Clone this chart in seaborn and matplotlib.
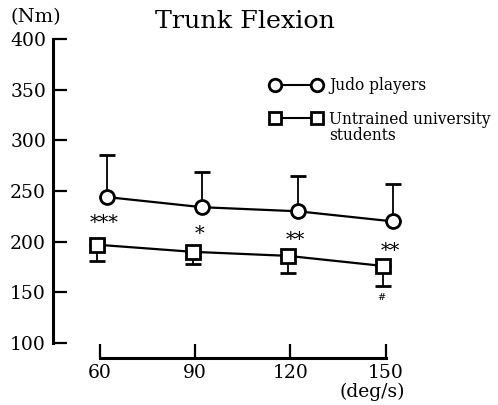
import matplotlib
matplotlib.use("Agg")
import matplotlib.pyplot as plt
import seaborn as sns
import pandas as pd
import numpy as np

# Data
speeds = [60, 90, 120, 150]
judo_mean = [244, 234, 230, 220]
judo_sd = [42, 35, 35, 37]
untrained_mean = [197, 190, 186, 176]
untrained_sd = [16, 12, 17, 20]
sig_labels = ["***", "*", "**", "**"]
sig_y = [218, 208, 202, 191]
hash_label = "#"
yticks = [100, 150, 200, 250, 300, 350, 400]

sns.set_theme(style="white")
plt.rcParams['font.family'] = ['DejaVu Serif']
plt.rcParams['text.color'] = 'black'

fig = plt.figure(figsize=(4.98, 4.05), dpi=100)
ax = fig.add_axes([53/498, 47/405, 445/498, 328/405])

df = pd.DataFrame({
    "speed": speeds * 2,
    "torque": judo_mean + untrained_mean,
    "group": ["Judo players"] * 4 + ["Untrained university\nstudents"] * 4,
})
df["xpos"] = df["speed"] + np.where(df["group"] == "Judo players", 2.3, -0.8)

judo_x = [s + 2.3 for s in speeds]
unt_x = [s - 0.8 for s in speeds]

# error bars (one-sided)
ax.errorbar(judo_x, judo_mean, yerr=[np.zeros(4), judo_sd], fmt="none",
            ecolor="black", elinewidth=1.3, capsize=6, capthick=1.5, zorder=2)
ax.errorbar(unt_x, untrained_mean, yerr=[untrained_sd, np.zeros(4)], fmt="none",
            ecolor="black", elinewidth=1.3, capsize=6, capthick=1.5, zorder=2)

sns.lineplot(data=df, x="xpos", y="torque", hue="group", style="group",
             markers={"Judo players": "o", "Untrained university\nstudents": "s"},
             dashes=False, palette=["black", "black"], ax=ax, legend=False,
             linewidth=1.6, markersize=10, markerfacecolor="white",
             markeredgecolor="black", markeredgewidth=2.0, zorder=3)
for ln in ax.lines:
    ln.set_markerfacecolor("white")
    ln.set_markeredgecolor("black")
    ln.set_markeredgewidth(2.0)
ax.lines[-1].set_markersize(9.5)

# significance marks
for s, lab, yy in zip(speeds, sig_labels, sig_y):
    ax.text(s + 1.5, yy, lab, ha="center", va="center", fontsize=14, color="black")
ax.text(speeds[-1] - 1.5, 145, hash_label, ha="center", va="center", fontsize=7, color="black")

# axes setup
ax.set_xlim(45.3, 185.3)
ax.set_ylim(85.2, 408.9)
ax.set_xticks(speeds)
ax.set_yticks(yticks)
ax.set_xticklabels([str(s) for s in speeds])
ax.set_yticklabels([str(t) for t in yticks])
ax.set_xlabel("")
ax.set_ylabel("")
for side in ["top", "right"]:
    ax.spines[side].set_visible(False)
ax.spines["left"].set_bounds(100, 400)
ax.spines["bottom"].set_bounds(60, 150)
ax.spines["left"].set_linewidth(2.2)
ax.spines["bottom"].set_linewidth(2.2)
ax.spines["left"].set_color("black")
ax.spines["bottom"].set_color("black")
ax.tick_params(axis="y", direction="in", length=10, width=1.6, labelsize=13.5,
               pad=5, colors="black", left=True)
ax.tick_params(axis="x", direction="in", length=10, width=1.6, labelsize=13.5,
               pad=4, colors="black", bottom=True)

# titles / units
fig.text(245/498, 1 - 22/405, "Trunk Flexion", ha="center", va="center", fontsize=18.3)
fig.text(36/498, 1 - 17/405, "(Nm)", ha="center", va="center", fontsize=14)
fig.text(372/498, 1 - 392/405, "(deg/s)", ha="center", va="center", fontsize=13.5)

# custom legend
from matplotlib.lines import Line2D
def leg_entry(y_px, marker, ms):
    l = Line2D([275/498, 317/498], [1 - y_px/405] * 2, transform=fig.transFigure,
               color="black", linewidth=1.5, marker=marker, markersize=ms,
               markerfacecolor="white", markeredgecolor="black", markeredgewidth=2.0)
    fig.add_artist(l)
leg_entry(85, "o", 9)
leg_entry(118, "s", 8.5)
fig.text(329/498, 1 - 85/405, "Judo players", ha="left", va="center", fontsize=11.2)
fig.text(329/498, 1 - 119/405, "Untrained university", ha="left", va="center", fontsize=11.2)
fig.text(329/498, 1 - 136/405, "students", ha="left", va="center", fontsize=11.2)

fig.savefig("out.png", dpi=100)
